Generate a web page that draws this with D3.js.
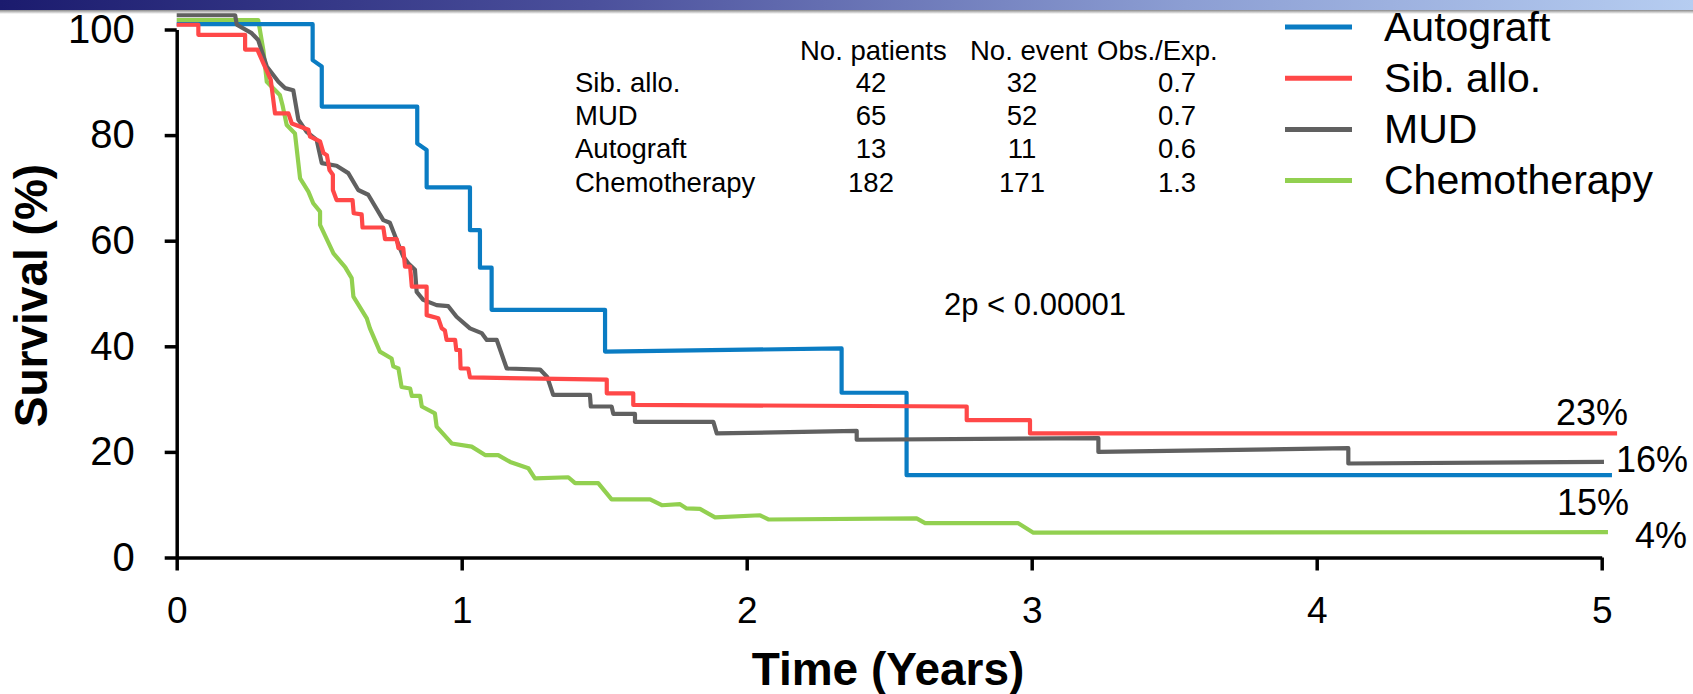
<!DOCTYPE html>
<html>
<head>
<meta charset="utf-8">
<script src="https://cdn.jsdelivr.net/npm/d3@7"></script>
<style>
  html, body { margin: 0; padding: 0; background: #fff; }
  svg { display: block; }
  text { font-family: "Liberation Sans", Arial, sans-serif; fill: #000; }
</style>
</head>
<body>
<svg id="chart" width="1693" height="694"></svg>
<script>
// ---------------- DATA ----------------
const yTicks = [0, 20, 40, 60, 80, 100];
const xTicks = [0, 1, 2, 3, 4, 5];
const xTitle = "Time (Years)";
const yTitle = "Survival (%)";

const seriesNames = ["Autograft", "Sib. allo.", "MUD", "Chemotherapy"];

// Kaplan-Meier curves: [years, survival %]
const autograft = [
  [0, 101.0], [0.477, 101.0], [0.477, 94.2], [0.509, 93.0], [0.509, 85.4],
  [0.844, 85.4], [0.844, 78.4], [0.877, 77.2], [0.877, 70.1], [1.029, 70.1],
  [1.029, 62.0], [1.064, 62.0], [1.064, 54.9], [1.105, 54.9], [1.105, 46.9],
  [1.503, 46.9], [1.503, 39.0], [2.333, 39.6], [2.333, 31.2], [2.561, 31.2],
  [2.561, 15.6], [5.036, 15.6]
];
const sibAllo = [
  [0, 100.9], [0.076, 100.9], [0.076, 99.0], [0.240, 99.0], [0.240, 96.2],
  [0.283, 96.2], [0.305, 93.5], [0.330, 90.5], [0.345, 84.1], [0.392, 84.1],
  [0.404, 82.2], [0.462, 81.0], [0.468, 79.7], [0.503, 78.8], [0.515, 76.6],
  [0.527, 76.2], [0.536, 73.4], [0.548, 72.5], [0.548, 69.6], [0.561, 67.7],
  [0.617, 67.7], [0.621, 65.2], [0.649, 65.0], [0.652, 62.5], [0.725, 62.5],
  [0.731, 60.3], [0.772, 60.3], [0.778, 58.6], [0.795, 58.6], [0.801, 55.1],
  [0.819, 55.1], [0.825, 51.3], [0.877, 51.3], [0.877, 45.9], [0.918, 45.3],
  [0.930, 43.4], [0.941, 43.0], [0.947, 41.2], [0.977, 41.2], [0.981, 39.3],
  [0.994, 39.3], [0.996, 35.8], [1.023, 35.8], [1.029, 34.1], [1.509, 33.7],
  [1.509, 31.1], [1.602, 31.1], [1.602, 28.9], [2.772, 28.6], [2.772, 26.0],
  [2.994, 26.0], [2.994, 23.5], [5.054, 23.5]
];
const mud = [
  [0, 102.7], [0.205, 102.7], [0.211, 100.9], [0.263, 99.3], [0.286, 98.0],
  [0.316, 93.0], [0.357, 90.1], [0.380, 88.9], [0.409, 88.5], [0.427, 82.9],
  [0.456, 80.6], [0.491, 79.1], [0.509, 74.7], [0.561, 74.2], [0.602, 72.8],
  [0.637, 69.6], [0.672, 68.7], [0.725, 63.9], [0.748, 63.4], [0.772, 60.1],
  [0.795, 57.0], [0.813, 55.7], [0.836, 54.5], [0.842, 50.3], [0.865, 48.8],
  [0.912, 47.8], [0.953, 47.6], [0.982, 45.6], [1.029, 43.4], [1.070, 42.5],
  [1.088, 41.2], [1.123, 41.2], [1.158, 35.8], [1.275, 35.6], [1.300, 34.2],
  [1.321, 30.8], [1.450, 30.8], [1.453, 28.6], [1.526, 28.6], [1.532, 27.2],
  [1.608, 27.2], [1.608, 25.7], [1.883, 25.7], [1.895, 23.5], [2.386, 24.0],
  [2.386, 22.3], [3.234, 22.6], [3.234, 20.0], [4.111, 20.7], [4.111, 17.8],
  [5.008, 18.1]
];
const chemotherapy = [
  [0, 101.8], [0.286, 101.8], [0.304, 96.1], [0.316, 90.1], [0.362, 87.6],
  [0.372, 85.5], [0.386, 81.9], [0.415, 80.3], [0.433, 71.8], [0.462, 69.3],
  [0.479, 67.1], [0.503, 65.5], [0.503, 63.0], [0.550, 57.6], [0.591, 55.0],
  [0.614, 52.9], [0.620, 49.4], [0.667, 45.3], [0.678, 43.4], [0.713, 39.0],
  [0.754, 37.7], [0.760, 36.2], [0.778, 35.8], [0.789, 32.3], [0.819, 32.0],
  [0.825, 30.6], [0.854, 30.6], [0.860, 28.6], [0.906, 27.3], [0.912, 24.8],
  [0.965, 21.6], [1.035, 21.0], [1.082, 19.4], [1.128, 19.4], [1.170, 18.1],
  [1.234, 16.9], [1.257, 15.0], [1.374, 15.2], [1.398, 14.1], [1.479, 14.1],
  [1.526, 11.0], [1.661, 11.0], [1.702, 9.9], [1.766, 10.1], [1.789, 9.3],
  [1.836, 9.2], [1.889, 7.6], [2.047, 8.0], [2.076, 7.2], [2.596, 7.4],
  [2.626, 6.5], [2.953, 6.5], [3.006, 4.7], [5.022, 4.8]
];

// Table
const tableHeaders = ["No. patients", "No. event", "Obs./Exp."];
const tableGroups = ["Sib. allo.", "MUD", "Autograft", "Chemotherapy"];
const tablePatients = [42, 65, 13, 182];
const tableEvents = [32, 52, 11, 171];
const tableObsExp = ["0.7", "0.7", "0.6", "1.3"];

const pValueText = "2p < 0.00001";
const endLabels = ["23%", "16%", "15%", "4%"];

// ---------------- DRAWING ----------------
const svg = d3.select("#chart");
const W = 1693, H = 694;

// slide header bar
const defs = svg.append("defs");
const g1 = defs.append("linearGradient").attr("id", "barGrad")
  .attr("x1", "0%").attr("x2", "100%").attr("y1", "0%").attr("y2", "0%");
g1.append("stop").attr("offset", "0%").attr("stop-color", "#1b1b6e");
g1.append("stop").attr("offset", "35%").attr("stop-color", "#4b509c");
g1.append("stop").attr("offset", "70%").attr("stop-color", "#8c9ed3");
g1.append("stop").attr("offset", "100%").attr("stop-color", "#b6cdf1");
const g2 = defs.append("linearGradient").attr("id", "shadowGrad")
  .attr("x1", "0%").attr("x2", "0%").attr("y1", "0%").attr("y2", "100%");
g2.append("stop").attr("offset", "0%").attr("stop-color", "#8a8a8a");
g2.append("stop").attr("offset", "100%").attr("stop-color", "#ffffff");
svg.append("rect").attr("x", 0).attr("y", 0).attr("width", W).attr("height", 10).attr("fill", "url(#barGrad)");
svg.append("rect").attr("x", 0).attr("y", 10).attr("width", W).attr("height", 4).attr("fill", "url(#shadowGrad)");

const x = d3.scaleLinear().domain([0, 5]).range([176.7, 1601.7]);
const y = d3.scaleLinear().domain([0, 100]).range([557.5, 29.5]);

// axes
const yAxis = d3.axisLeft(y).tickValues(yTicks).tickFormat(d3.format("d"))
  .tickSize(12).tickSizeOuter(0).tickPadding(30);
const xAxis = d3.axisBottom(x).tickValues(xTicks).tickFormat(d3.format("d"))
  .tickSize(13).tickSizeOuter(0).tickPadding(26);

const gy = svg.append("g").attr("transform", `translate(${x(0)},0)`).call(yAxis);
const gx = svg.append("g").attr("transform", `translate(0,${y(0)})`).call(xAxis);
[gx, gy].forEach(g => {
  g.select(".domain").attr("stroke", "#000").attr("stroke-width", 3.5);
  g.selectAll(".tick line").attr("stroke", "#000").attr("stroke-width", 3.5);
  g.selectAll(".tick text").attr("fill", "#000")
    .style("font-family", '"Liberation Sans", Arial, sans-serif');
});
gy.selectAll(".tick text").style("font-size", "40px");
gx.selectAll(".tick text").style("font-size", "37px");

// axis titles
svg.append("text")
  .attr("transform", `translate(47,${(162 + 429) / 2}) rotate(-90)`)
  .attr("text-anchor", "middle")
  .style("font-size", "46px").style("font-weight", "bold")
  .text(yTitle);
svg.append("text")
  .attr("x", 888).attr("y", 685)
  .attr("text-anchor", "middle")
  .style("font-size", "46px").style("font-weight", "bold")
  .text(xTitle);

// curves
const colors = {
  "Autograft": "#0a7cc3",
  "Sib. allo.": "#ff4848",
  "MUD": "#606060",
  "Chemotherapy": "#92d050"
};
const seriesData = {
  "Autograft": autograft,
  "Sib. allo.": sibAllo,
  "MUD": mud,
  "Chemotherapy": chemotherapy
};
const line = d3.line().x(d => x(d[0])).y(d => y(d[1]));
// draw order: green under others
["Chemotherapy", "Autograft", "MUD", "Sib. allo."].forEach(name => {
  svg.append("path")
    .datum(seriesData[name])
    .attr("d", line)
    .attr("fill", "none")
    .attr("stroke", colors[name])
    .attr("stroke-width", 4.2)
    .attr("stroke-linejoin", "round");
});

// legend
const legX1 = 1285, legX2 = 1352, legTextX = 1384;
const legY0 = 27, legDY = 51.2;
seriesNames.forEach((name, i) => {
  const ly = legY0 + i * legDY;
  svg.append("line").attr("x1", legX1).attr("x2", legX2).attr("y1", ly).attr("y2", ly)
    .attr("stroke", colors[name]).attr("stroke-width", 5);
  svg.append("text").attr("x", legTextX).attr("y", ly + 13.5)
    .style("font-size", "41px").text(name);
});

// table
const tFont = "27.5px";
const headerX = [800, 970, 1097];
const headerY = 60;
tableHeaders.forEach((h, i) => {
  svg.append("text").attr("x", headerX[i]).attr("y", headerY)
    .style("font-size", tFont).text(h);
});
const rowY = [92, 125, 158, 192];
const colCenters = [871, 1022, 1177];
tableGroups.forEach((gname, i) => {
  svg.append("text").attr("x", 575).attr("y", rowY[i]).style("font-size", tFont).text(gname);
  [tablePatients[i], tableEvents[i], tableObsExp[i]].forEach((v, j) => {
    svg.append("text").attr("x", colCenters[j]).attr("y", rowY[i])
      .attr("text-anchor", "middle").style("font-size", tFont).text(v);
  });
});

// p-value
svg.append("text").attr("x", 944).attr("y", 315).style("font-size", "31px").text(pValueText);

// end labels
const endPos = [[1556, 425], [1616, 472], [1557, 515], [1635, 548]];
endLabels.forEach((t, i) => {
  svg.append("text").attr("x", endPos[i][0]).attr("y", endPos[i][1])
    .style("font-size", "36px").text(t);
});
</script>
</body>
</html>
